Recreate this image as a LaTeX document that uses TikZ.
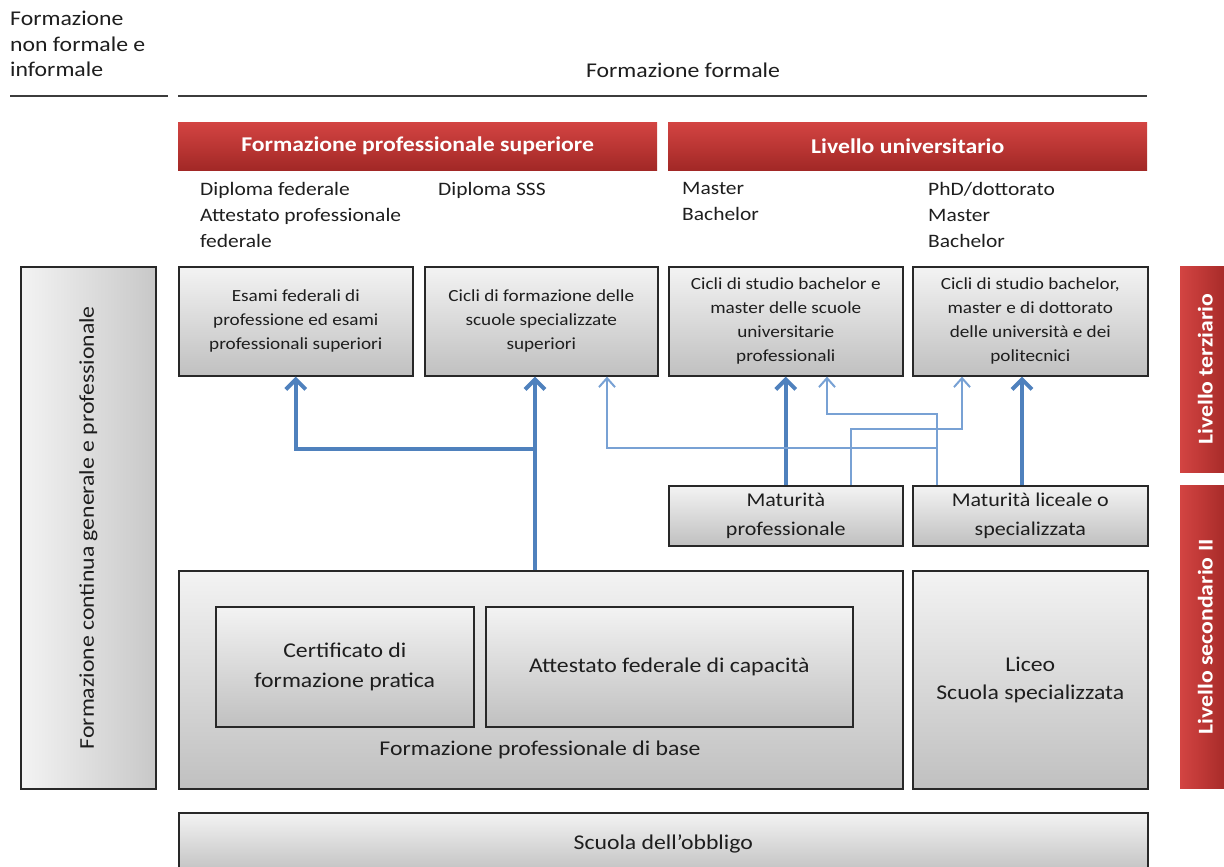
\documentclass[tikz,border=0pt]{standalone}
\usepackage{fontspec}
\usepackage{graphicx}
\setmainfont[FakeStretch=1.13]{Carlito}
\usepackage{tikz}
\usetikzlibrary{arrows.meta}

\definecolor{hdrtop}{RGB}{211,68,66}
\definecolor{hdrbot}{RGB}{162,40,38}
\definecolor{boxtop}{RGB}{243,243,243}
\definecolor{boxbot}{RGB}{192,192,192}
\definecolor{sidebot}{RGB}{200,200,200}
\definecolor{rim}{RGB}{40,40,40}
\definecolor{rule}{RGB}{60,60,60}
\definecolor{ink}{RGB}{30,30,30}
\definecolor{flowdark}{RGB}{79,129,189}
\definecolor{flowlight}{RGB}{120,161,212}

\begin{document}
\begin{tikzpicture}[x=1pt,y=-1pt,text=ink,
    box/.style={draw=rim,line width=1.6pt,top color=boxtop,bottom color=boxbot,
      anchor=north west,inner sep=2pt,align=center},
    sidebox/.style={draw=rim,line width=1.6pt,left color=boxtop,right color=sidebot,
      anchor=north west,inner sep=2pt},
    header/.style={top color=hdrtop,bottom color=hdrbot,anchor=north west,
      text=white,font=\bfseries\fontsize{21}{25}\selectfont},
    level/.style={left color=hdrtop,right color=hdrbot,anchor=north west,
      text=white,font=\bfseries\fontsize{21}{24}\selectfont},
    small/.style={font=\fontsize{17}{24}\selectfont},
    large/.style={font=\fontsize{21}{29}\selectfont},
    label/.style={anchor=north west,inner sep=0pt,align=left,font=\fontsize{19}{26}\selectfont},
    mainflow/.style={draw=flowdark,line width=4pt,-{Straight Barb[length=10pt,width=20pt]}},
    sideflow/.style={draw=flowlight,line width=2pt,-{Straight Barb[length=9pt,width=16pt]}}]
    \clip (0,0) rectangle (1224,867);

    % column titles
    \node[label,font=\fontsize{21}{25.5}\selectfont] (nonformal) at (10,11)
      {Formazione\\non formale e\\informale};
    \node[font=\fontsize{21}{26}\selectfont] (formal) at (683,70) {Formazione formale};
    \draw[rule,line width=2pt] (10,96) -- (168,96);
    \draw[rule,line width=2pt] (178,96) -- (1147,96);

    \node[header,minimum width=479,minimum height=48] (hps) at (178,122)
      {Formazione professionale superiore};
    \node[header,minimum width=479,minimum height=48] (huni) at (668,122)
      {Livello universitario};

    \node[label] (dipfed) at (200,182) {Diploma federale\\Attestato professionale\\federale};
    \node[label] (dipsss) at (438,182) {Diploma SSS};
    \node[label] (mbfh) at (682,182) {Master\\Bachelor};
    \node[label] (mbuni) at (928,182) {PhD/dottorato\\Master\\Bachelor};

    % tertiary level
    \node[box,small,minimum width=234,minimum height=109] (esami) at (178,266)
      {Esami federali di\\professione ed esami\\professionali superiori};
    \node[box,small,minimum width=233,minimum height=109] (sss) at (424,266)
      {Cicli di formazione delle\\scuole specializzate\\superiori};
    \node[box,small,minimum width=234,minimum height=109] (fh) at (668,266)
      {Cicli di studio bachelor e\\master delle scuole\\universitarie\\professionali};
    \node[box,small,minimum width=235,minimum height=109] (uni) at (912,266)
      {Cicli di studio bachelor,\\master e di dottorato\\delle università e dei\\politecnici};

    % secondary level II
    \node[box,font=\fontsize{19.5}{29}\selectfont,minimum width=234,minimum height=60] (matprof)
      at (668,485) {Maturità\\professionale};
    \node[box,font=\fontsize{19.5}{29}\selectfont,minimum width=235,minimum height=60] (matlic)
      at (912,485) {Maturità liceale o\\specializzata};
    \node[box,minimum width=724,minimum height=218] (base) at (178,570) {};
    \node[box,font=\fontsize{21}{30}\selectfont,minimum width=258,minimum height=120] (cert)
      at (215,606) {Certificato di\\formazione pratica};
    \node[box,large,minimum width=367,minimum height=120] (afc) at (485,606)
      {Attestato federale di capacità};
    \node[large] (basetext) at (540,750) {Formazione professionale di base};
    \node[box,font=\fontsize{21}{28}\selectfont,minimum width=235,minimum height=218] (liceo)
      at (912,570) {Liceo\\Scuola specializzata};
    \node[box,large,minimum width=969,minimum height=62] (obbligo) at (178,812)
      {Scuola dell’obbligo};

    \node[sidebox,large,minimum width=135,minimum height=522] (continua) at (20,266)
      {\rotatebox{90}{Formazione continua generale e professionale}};
    \node[level,minimum width=50,minimum height=206] (terz) at (1180,266)
      {\rotatebox{90}{Livello terziario}};
    \node[level,minimum width=50,minimum height=303] (sec) at (1180,485)
      {\rotatebox{90}{Livello secondario II}};

    % pathways
    \coordinate (split) at (535,449);
    \coordinate (gym) at (1022,449);
    \coordinate (bmup) at (851,429);
    \coordinate (bmuni) at (962,429);
    \coordinate (gmup) at (937,414);
    \coordinate (gmfh) at (827,414);
    \coordinate (gmlow) at (937,448);
    \coordinate (gmhf) at (607,448);
    \draw[mainflow] (base.north -| split) -- (sss.south -| split);
    \draw[mainflow] (split) -| (esami.south);
    \draw[mainflow] (matprof.north) -- (fh.south);
    \draw[mainflow] (matlic.north -| gym) -- (uni.south -| gym);
    \draw[sideflow] (matprof.north -| bmup) |- (bmuni) -- (uni.south -| bmuni);
    \draw[sideflow] (matlic.north -| gmup) -- (gmup) -| (fh.south -| gmfh);
    \draw[sideflow] (gmlow) -| (sss.south -| gmhf);
\end{tikzpicture}
\end{document}
